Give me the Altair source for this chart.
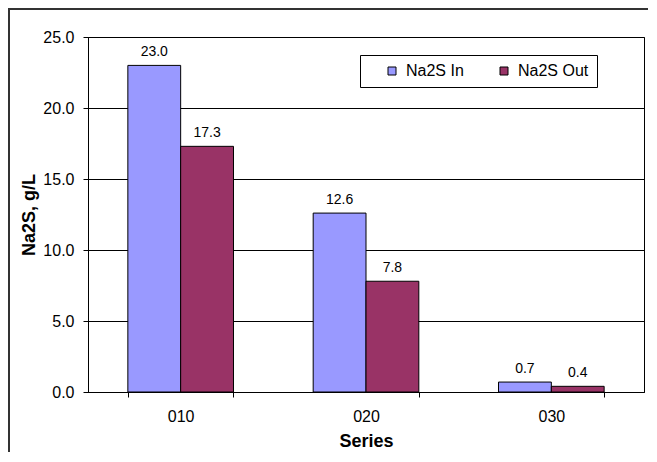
import altair as alt
import pandas as pd

series = ["010", "020", "030"]
na2s_in = [23.0, 12.6, 0.7]
na2s_out = [17.3, 7.8, 0.4]
types = ["Na2S In", "Na2S Out"]
colors = ["#9999FF", "#993366"]
y_ticks = [0, 5, 10, 15, 20, 25]

rows = []
for s, a, b in zip(series, na2s_in, na2s_out):
    rows.append({"Series": s, "Type": types[0], "Value": a})
    rows.append({"Series": s, "Type": types[1], "Value": b})
df = pd.DataFrame(rows)

FONT = "Liberation Sans"

x_enc = alt.X(
    "Series:N",
    title="Series",
    sort=series,
    scale=alt.Scale(paddingInner=0.43, paddingOuter=0.215),
    axis=alt.Axis(
        labelAngle=0, tickBand="extent", tickSize=5, labelFontSize=16,
        labelPadding=11, titleFontSize=18, titleFontWeight="bold",
        titlePadding=8, domainColor="black", tickColor="black",
        labelColor="black", titleColor="black",
    ),
)
xoff = alt.XOffset("Type:N", sort=types, scale=alt.Scale(paddingInner=0, paddingOuter=0))
y_enc = alt.Y(
    "Value:Q",
    title="Na2S, g/L",
    scale=alt.Scale(domain=[0, 25], nice=False),
    axis=alt.Axis(
        values=y_ticks, format=".1f", tickSize=5, labelFontSize=16,
        labelPadding=9, titleFontSize=18, titleFontWeight="bold",
        titlePadding=4, grid=True, gridColor="black", gridWidth=1,
        domainColor="black", tickColor="black", labelColor="black",
        titleColor="black",
    ),
)

base = alt.Chart(df)

bars = base.mark_bar(stroke="black", strokeWidth=1).encode(
    x=x_enc,
    xOffset=xoff,
    y=y_enc,
    color=alt.Color(
        "Type:N",
        sort=types,
        scale=alt.Scale(domain=types, range=colors),
        legend=alt.Legend(
            title=None, orient="none", legendX=272, legendY=18,
            direction="horizontal", strokeColor="black", fillColor="white",
            padding=8, symbolType="square", symbolSize=64,
            symbolStrokeColor="black", symbolStrokeWidth=1,
            symbolOpacity=1, labelFontSize=16, labelColor="black",
            columnPadding=16, labelOffset=6, symbolOffset=16,
        ),
    ),
)

labels = base.mark_text(
    baseline="alphabetic", dy=-9, fontSize=14, color="black", font=FONT
).encode(
    x=alt.X("Series:N", sort=series),
    xOffset=alt.XOffset("Type:N", sort=types),
    y=alt.Y("Value:Q"),
    text=alt.Text("Value:Q", format=".1f"),
)

one = alt.Chart(pd.DataFrame({"a": [0]}))
top_line = one.mark_rule(color="#333333", strokeWidth=2).encode(
    x=alt.value(-80), x2=alt.value(564), y=alt.value(-28)
)
left_line = one.mark_rule(color="#333333", strokeWidth=2).encode(
    x=alt.value(-79), y=alt.value(-29), y2=alt.value(420)
)

chart = (
    alt.layer(bars, labels, top_line, left_line)
    .properties(
        width=556,
        height=355,
        autosize=alt.AutoSizeParams(type="none"),
        padding={"left": 80, "top": 29, "right": 4, "bottom": 60},
    )
    .configure(font=FONT)
    .configure_view(stroke="black", strokeWidth=1)
)

chart.save("out.html", embed_options={"renderer": "svg", "actions": False})
